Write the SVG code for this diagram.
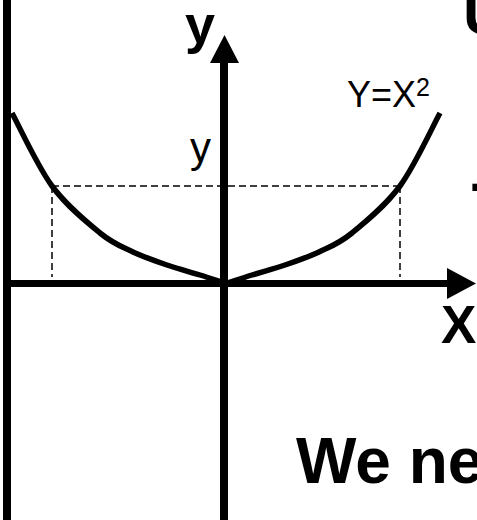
<svg xmlns="http://www.w3.org/2000/svg" width="477" height="520" viewBox="0 0 477 520">
<style>
.axis{stroke:#000;stroke-width:8;fill:none}
.curve{stroke:#000;stroke-width:5.5;fill:none;stroke-linejoin:round}
.dash{stroke:#000;stroke-width:1.5;stroke-dasharray:7 4;fill:none}
.lbl{font-family:"Liberation Sans",Arial,sans-serif;fill:#000}
.big{font-family:"Liberation Sans",Arial,sans-serif;font-weight:bold;fill:#000}
</style>
<rect width="477" height="520" fill="#fff"/>
<rect id="frame-left" x="3" y="0" width="8" height="520" fill="#000"/>
<g id="guides">
<path class="dash" d="M52,186 H400"/>
<path class="dash" d="M52,186 V277"/>
<path class="dash" d="M400,186 V277"/>
</g>
<g id="connectors">
<path class="axis" d="M224,60 V520"/>
<polygon points="224.5,35 210,63 239,63" fill="#000"/>
<path class="axis" style="stroke-width:7" d="M3,283.5 H450"/>
<polygon points="476,283.5 447,268 447,299" fill="#000"/>
</g>
<g id="curve">
<path class="curve" d="M12,113 C18.7,125.2 37.3,166 52,186 C66.7,206 86.5,222 100,233 C113.5,244 121.8,246.7 133,252 C144.2,257.3 155.8,261.2 167,265 C178.2,268.8 190.5,272 200,275 C209.5,278 220,281.7 224,283"/>
<path class="curve" d="M440,113 C433.3,125.2 414.7,166 400,186 C385.3,206 365.5,222 352,233 C338.5,244 330.2,246.7 319,252 C307.8,257.3 296.2,261.2 285,265 C273.8,268.8 261.5,272 252,275 C242.5,278 232,281.7 228,283"/>
</g>
<g id="labels">
<text class="big" x="185" y="43" font-size="54">y</text>
<text class="big" x="441" y="343" font-size="53">X</text>
<text class="lbl" x="190" y="162" font-size="42">y</text>
<text class="lbl" x="347" y="107" font-size="36">Y=X<tspan font-size="25" dy="-11">2</tspan></text>
</g>
<g id="slide-text">
<text class="big" x="463" y="34" font-size="61">U</text>
<text class="big" x="470" y="203" font-size="61">-</text>
<text class="big" x="296" y="483" font-size="64">We ne</text>
</g>
</svg>
